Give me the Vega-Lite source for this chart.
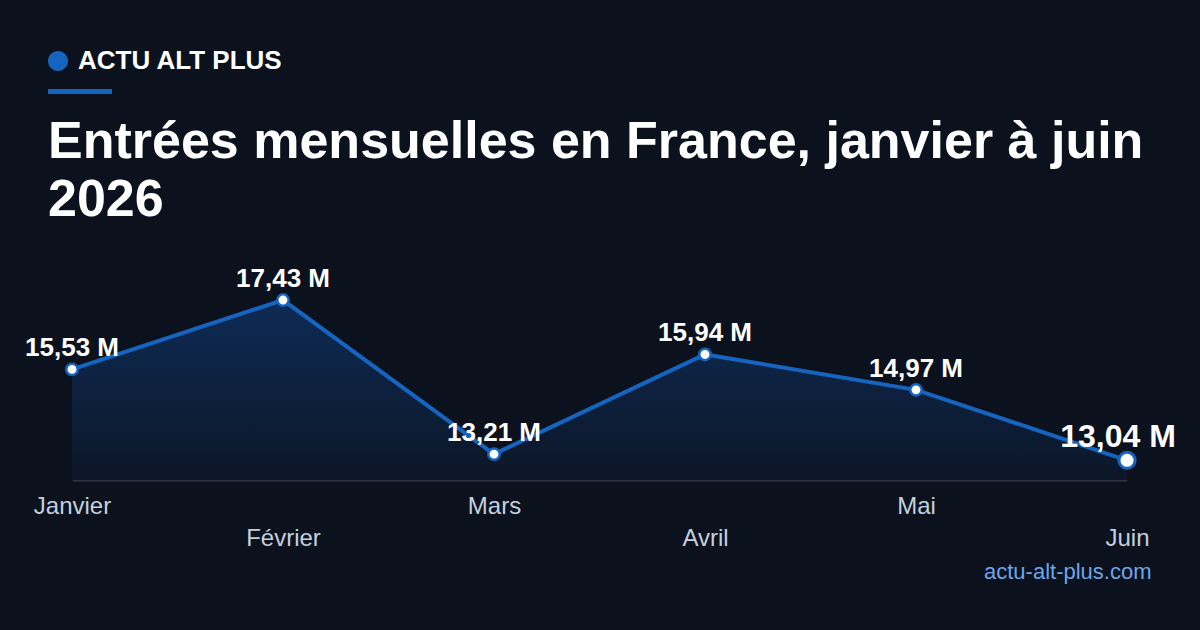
{
  "$schema": "https://vega.github.io/schema/vega-lite/v6.json",
  "width": 1055,
  "height": 219,
  "autosize": {"type": "none"},
  "padding": {"left": 72, "top": 261, "right": 73, "bottom": 150},
  "background": "#0b121e",
  "config": {"view": {"stroke": null}, "font": "Liberation Sans"},
  "title": {
    "text": ["Entrées mensuelles en France, janvier à juin", "2026"],
    "anchor": "start",
    "frame": "group",
    "orient": "top",
    "dx": -24,
    "dy": 263,
    "offset": 43,
    "font": "Liberation Sans",
    "fontSize": 52,
    "fontWeight": "bold",
    "color": "#ffffff",
    "lineHeight": 58,
    "baseline": "alphabetic",
    "limit": 1150
  },
  "data": {
    "values": [
      {"mois": "Janvier", "entrees": 15.53, "etiquette": "15,53 M", "serie": "ACTU ALT PLUS"},
      {"mois": "Février", "entrees": 17.43, "etiquette": "17,43 M", "serie": "ACTU ALT PLUS"},
      {"mois": "Mars", "entrees": 13.21, "etiquette": "13,21 M", "serie": "ACTU ALT PLUS"},
      {"mois": "Avril", "entrees": 15.94, "etiquette": "15,94 M", "serie": "ACTU ALT PLUS"},
      {"mois": "Mai", "entrees": 14.97, "etiquette": "14,97 M", "serie": "ACTU ALT PLUS"},
      {"mois": "Juin", "entrees": 13.04, "etiquette": "13,04 M", "serie": "ACTU ALT PLUS"}
    ]
  },
  "encoding": {
    "x": {
      "field": "mois",
      "type": "ordinal",
      "sort": null,
      "scale": {"type": "point", "padding": 0, "domain": ["Janvier", "Février", "Mars", "Avril", "Mai", "Juin"]},
      "axis": {
        "domainColor": "#2b3546",
        "domainWidth": 2,
        "ticks": false,
        "grid": false,
        "labelAngle": 0,
        "labelColor": "#c5cfdd",
        "labelFont": "Liberation Sans",
        "labelFontSize": 24,
        "labelPadding": 14,
        "labelBaseline": "top",
        "labelLineHeight": 32,
        "labelOverlap": false,
        "labelExpr": "indexof(['Février','Avril','Juin'], datum.value) >= 0 ? ['', datum.value] : datum.value",
        "title": "actu-alt-plus.com",
        "titleColor": "#6ea6e6",
        "titleFont": "Liberation Sans",
        "titleFontSize": 22,
        "titleFontWeight": "normal",
        "titleAnchor": "end",
        "titleAlign": "right",
        "titleBaseline": "alphabetic",
        "titleX": 1079,
        "titleY": 98
      }
    },
    "y": {
      "field": "entrees",
      "type": "quantitative",
      "scale": {"domain": [12.5, 18.5], "zero": false, "nice": false},
      "axis": null
    }
  },
  "layer": [
    {
      "mark": {
        "type": "area",
        "fill": {
          "gradient": "linear",
          "x1": 0, "y1": 0, "x2": 0, "y2": 1,
          "stops": [
            {"offset": 0, "color": "#0e2b55"},
            {"offset": 1, "color": "#0c1627"}
          ]
        }
      },
      "encoding": {"y2": {"datum": 12.5}}
    },
    {
      "mark": {"type": "line", "strokeWidth": 4},
      "encoding": {
        "color": {
          "field": "serie",
          "type": "nominal",
          "scale": {"range": ["#1565c0"]},
          "legend": {
            "orient": "none",
            "legendX": -27,
            "legendY": -213,
            "title": null,
            "padding": 0,
            "symbolType": "M-1,0A1,1,0,1,1,1,0A1,1,0,1,1,-1,0Z M-1,2.8H5.4V3.3H-1Z",
            "symbolSize": 400,
            "labelFont": "Liberation Sans",
            "labelFontSize": 26,
            "labelFontWeight": "bold",
            "labelColor": "#ffffff",
            "labelOffset": 7,
            "labelLimit": 500,
            "encode": {
              "symbols": {
                "update": {
                  "fill": {"value": "#1565c0"},
                  "stroke": {"value": "#1565c0"},
                  "strokeWidth": {"value": 0},
                  "opacity": {"value": 1}
                }
              }
            }
          }
        }
      }
    },
    {
      "transform": [{"filter": "datum.mois !== 'Juin'"}],
      "mark": {"type": "point", "filled": true, "fill": "#ffffff", "stroke": "#1565c0", "strokeWidth": 2.5, "size": 130, "opacity": 1}
    },
    {
      "transform": [{"filter": "datum.mois === 'Juin'"}],
      "mark": {"type": "point", "filled": true, "fill": "#ffffff", "stroke": "#1565c0", "strokeWidth": 3, "size": 260, "opacity": 1}
    },
    {
      "transform": [{"filter": "datum.mois !== 'Juin'"}],
      "mark": {"type": "text", "font": "Liberation Sans", "fontSize": 26, "fontWeight": "bold", "color": "#ffffff", "baseline": "alphabetic", "dy": -13},
      "encoding": {"text": {"field": "etiquette"}}
    },
    {
      "transform": [{"filter": "datum.mois === 'Juin'"}],
      "mark": {"type": "text", "font": "Liberation Sans", "fontSize": 32, "fontWeight": "bold", "color": "#ffffff", "baseline": "alphabetic", "dy": -13, "dx": -9},
      "encoding": {"text": {"field": "etiquette"}}
    }
  ]
}
